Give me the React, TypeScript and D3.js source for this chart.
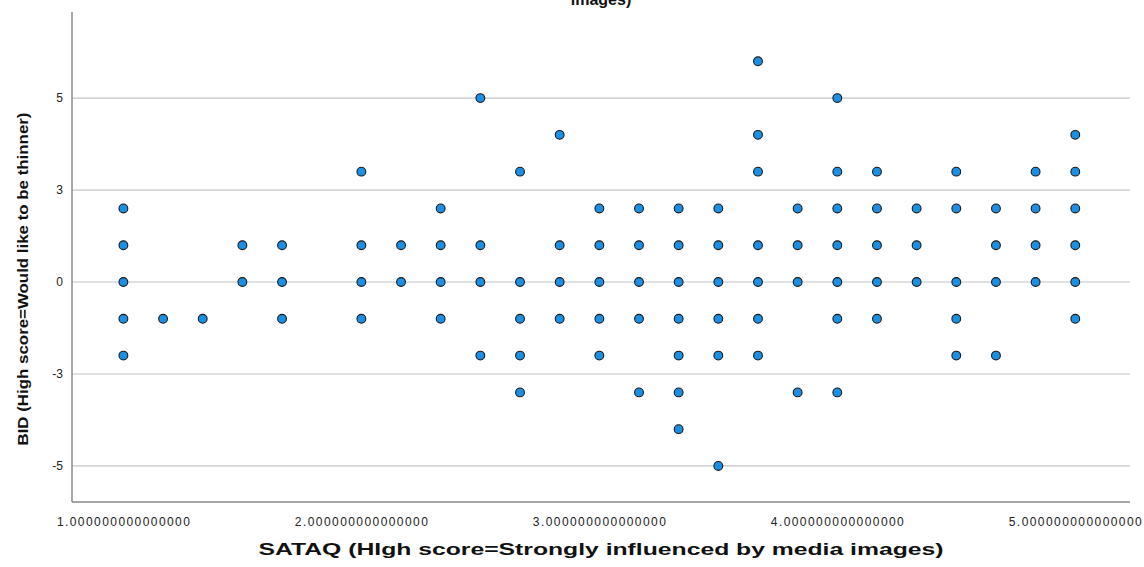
import React from "react";
import * as d3 from "d3";

// SATAQ score levels (x) and the BID values observed at each level (y)
const sataqLevels: number[] = [
  1.0, 1.1667, 1.3333, 1.5, 1.6667, 2.0, 2.1667, 2.3333, 2.5, 2.6667, 2.8333,
  3.0, 3.1667, 3.3333, 3.5, 3.6667, 3.8333, 4.0, 4.1667, 4.3333, 4.5, 4.6667,
  4.8333, 5.0,
];
const bidAtLevel: number[][] = [
  [2, 1, 0, -1, -2],
  [-1],
  [-1],
  [1, 0],
  [1, 0, -1],
  [3, 1, 0, -1],
  [1, 0],
  [2, 1, 0, -1],
  [5, 1, 0, -2],
  [3, 0, -1, -2, -3],
  [4, 1, 0, -1],
  [2, 1, 0, -1, -2],
  [2, 1, 0, -1, -3],
  [2, 1, 0, -1, -2, -3, -4],
  [2, 1, 0, -1, -2, -5],
  [6, 4, 3, 1, 0, -1, -2],
  [2, 1, 0, -3],
  [5, 3, 2, 1, 0, -1, -3],
  [3, 2, 1, 0, -1],
  [2, 1, 0],
  [3, 2, 0, -1, -2],
  [2, 1, 0, -2],
  [3, 2, 1, 0],
  [4, 3, 2, 1, 0, -1],
];

const xTicks: number[] = [1, 2, 3, 4, 5];
const xTickLabels: string[] = [
  "1.000000000000000",
  "2.000000000000000",
  "3.000000000000000",
  "4.000000000000000",
  "5.000000000000000",
];
const yTicks: number[] = [-5, -2.5, 0, 2.5, 5];
const yTickLabels: string[] = ["-5", "-3", "0", "3", "5"];

const titleTail = "images)";
const xTitle = "SATAQ (HIgh score=Strongly influenced by media images)";
const yTitle = "BID (High score=Would like to be thinner)";

const W = 1144;
const H = 567;
const left = 72;
const right = 1130;
const top = 12;
const bottom = 502;

export default function App() {
  const x = d3.scaleLinear().domain([0.784, 5.23]).range([left, right]);
  const y = d3.scaleLinear().domain([-5.98, 7.34]).range([bottom, top]);

  const points: { sx: number; by: number }[] = [];
  sataqLevels.forEach((s, i) => {
    bidAtLevel[i].forEach((b) => points.push({ sx: s, by: b }));
  });

  const font = "Liberation Sans, Arial, sans-serif";

  return (
    <svg
      width={W}
      height={H}
      style={{ position: "absolute", left: 0, top: 0, background: "#fff" }}
      fontFamily={font}
    >
      <rect x={0} y={0} width={W} height={H} fill="#fff" />
      {/* title tail (cut off at top) */}
      <text
        x={(left + right) / 2}
        y={5}
        textAnchor="middle"
        fontSize={16}
        fontWeight="bold"
        fill="#111"
      >
        {titleTail}
      </text>

      {/* gridlines */}
      {yTicks.map((t) => (
        <line
          key={"g" + t}
          x1={left}
          x2={right}
          y1={y(t)}
          y2={y(t)}
          stroke="#c4c4c4"
          strokeWidth={1.2}
        />
      ))}

      {/* axes */}
      <line x1={left} x2={left} y1={top} y2={bottom} stroke="#8a8a8a" strokeWidth={1.5} />
      <line x1={left} x2={right} y1={bottom} y2={bottom} stroke="#8a8a8a" strokeWidth={1.5} />

      {/* y tick labels */}
      {yTicks.map((t, i) => (
        <text
          key={"yl" + t}
          x={left - 9}
          y={y(t)}
          textAnchor="end"
          dominantBaseline="central"
          fontSize={12}
          fill="#222"
        >
          {yTickLabels[i]}
        </text>
      ))}

      {/* x tick labels */}
      {xTicks.map((t, i) => (
        <text
          key={"xl" + t}
          x={x(t)}
          y={522}
          textAnchor="middle"
          dominantBaseline="central"
          fontSize={12}
          fill="#222"
          textLength={133}
          lengthAdjust="spacing"
        >
          {xTickLabels[i]}
        </text>
      ))}

      {/* points */}
      {points.map((p, i) => (
        <circle
          key={i}
          cx={x(p.sx)}
          cy={y(p.by)}
          r={4.4}
          fill="#1b8fe3"
          stroke="#1a1a1a"
          strokeWidth={1.1}
        />
      ))}

      {/* axis titles */}
      <text
        x={(left + right) / 2}
        y={549}
        textAnchor="middle"
        dominantBaseline="central"
        fontSize={16}
        fontWeight="bold"
        fill="#111"
        textLength={685}
        lengthAdjust="spacingAndGlyphs"
      >
        {xTitle}
      </text>
      <text
        transform={`translate(22, ${(top + bottom) / 2 + 22}) rotate(-90)`}
        textAnchor="middle"
        dominantBaseline="central"
        fontSize={15}
        fontWeight="bold"
        fill="#111"
        textLength={333}
        lengthAdjust="spacingAndGlyphs"
      >
        {yTitle}
      </text>
    </svg>
  );
}
